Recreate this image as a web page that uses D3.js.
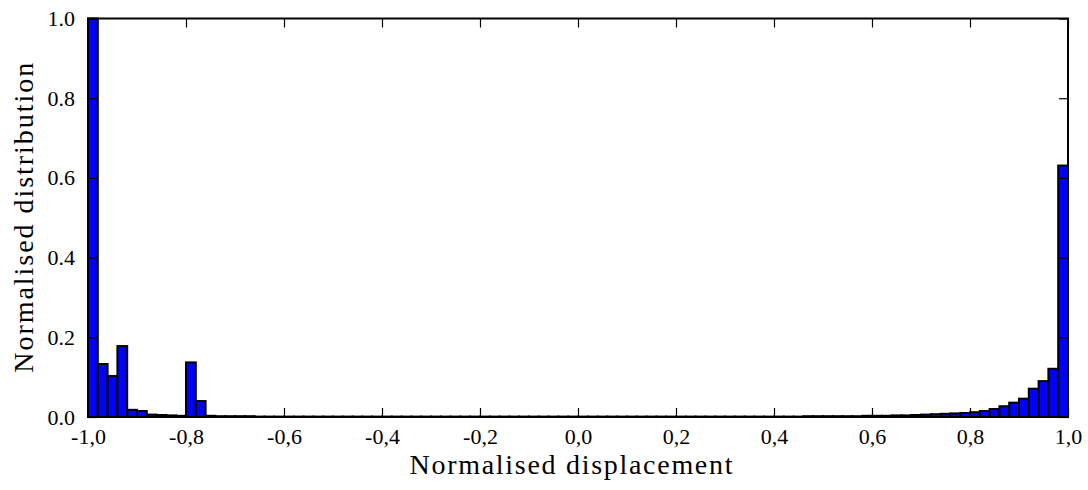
<!DOCTYPE html>
<html>
<head>
<meta charset="utf-8">
<script src="https://cdn.jsdelivr.net/npm/d3@7"></script>
<style>
  html, body { margin: 0; padding: 0; background: #fff; }
  svg { display: block; }
  text { font-family: "Liberation Serif", "DejaVu Serif", serif; fill: #000; }
</style>
</head>
<body>
<svg id="chart" width="1088" height="490"></svg>
<script>
// Histogram: 100 bins of width 0.02 from -1 to 1
const binStart = -1.0;
const binWidth = 0.02;
const binValues = [
  1.000, 0.133, 0.103, 0.178, 0.018, 0.015, 0.006, 0.005, 0.004, 0.003,
  0.137, 0.040, 0.003, 0.002, 0.002, 0.002, 0.002, 0.001, 0.001, 0.001,
  0.001, 0.001, 0.001, 0.001, 0.001, 0.001, 0.001, 0.001, 0.001, 0.001,
  0.001, 0.001, 0.001, 0.001, 0.001, 0.001, 0.001, 0.001, 0.001, 0.001,
  0.001, 0.001, 0.001, 0.001, 0.001, 0.001, 0.001, 0.001, 0.001, 0.001,
  0.001, 0.001, 0.001, 0.001, 0.001, 0.001, 0.001, 0.001, 0.001, 0.001,
  0.001, 0.001, 0.001, 0.001, 0.001, 0.001, 0.001, 0.001, 0.001, 0.001,
  0.001, 0.001, 0.001, 0.002, 0.002, 0.002, 0.002, 0.002, 0.002, 0.003,
  0.003, 0.003, 0.004, 0.004, 0.005, 0.006, 0.007, 0.008, 0.009, 0.010,
  0.012, 0.015, 0.020, 0.027, 0.036, 0.046, 0.071, 0.090, 0.121, 0.631
];
const xTicks = [-1.0, -0.8, -0.6, -0.4, -0.2, 0.0, 0.2, 0.4, 0.6, 0.8, 1.0];
const xTickLabels = ["-1,0", "-0,8", "-0,6", "-0,4", "-0,2", "0,0", "0,2", "0,4", "0,6", "0,8", "1,0"];
const yTicks = [0.0, 0.2, 0.4, 0.6, 0.8, 1.0];
const yTickLabels = ["0.0", "0.2", "0.4", "0.6", "0.8", "1.0"];
const xLabel = "Normalised displacement";
const yLabel = "Normalised distribution";

const svg = d3.select("#chart");
const m = { left: 88, right: 20, top: 18.5, bottom: 73 };
const W = 1088, H = 490;
const x = d3.scaleLinear().domain([-1, 1]).range([m.left, W - m.right]);
const y = d3.scaleLinear().domain([0, 1]).range([H - m.bottom, m.top]);

const bins = binValues.map((v, i) => ({ x0: binStart + i * binWidth, x1: binStart + (i + 1) * binWidth, v }));

svg.append("g").selectAll("rect").data(bins).join("rect")
  .attr("x", d => x(d.x0))
  .attr("width", d => x(d.x1) - x(d.x0))
  .attr("y", d => y(d.v))
  .attr("height", d => y(0) - y(d.v))
  .attr("fill", "#0000ff")
  .attr("stroke", "#000")
  .attr("stroke-width", 2);

const tickLen = 9;
const fmtX = (d, i) => xTickLabels[i];
const fmtY = (d, i) => yTickLabels[i];

const gB = svg.append("g").attr("transform", `translate(0,${y(0)})`)
  .call(d3.axisBottom(x).tickValues(xTicks).tickFormat(fmtX).tickSizeInner(-tickLen).tickSizeOuter(0).tickPadding(11));
const gT = svg.append("g").attr("transform", `translate(0,${y(1)})`)
  .call(d3.axisTop(x).tickValues(xTicks).tickFormat("").tickSizeInner(-tickLen).tickSizeOuter(0));
const gL = svg.append("g").attr("transform", `translate(${x(-1)},0)`)
  .call(d3.axisLeft(y).tickValues(yTicks).tickFormat(fmtY).tickSizeInner(-tickLen).tickSizeOuter(0).tickPadding(13));
const gR = svg.append("g").attr("transform", `translate(${x(1)},0)`)
  .call(d3.axisRight(y).tickValues(yTicks).tickFormat("").tickSizeInner(-tickLen).tickSizeOuter(0));

[gB, gT, gL, gR].forEach(g => {
  g.select(".domain").remove();
  g.selectAll(".tick line").attr("stroke", "#000").attr("stroke-width", 1.2);
  g.selectAll("text").style("font-family", '"Liberation Serif", serif').style("font-size", "22px").attr("fill", "#000");
});
gB.selectAll("text").attr("dy", "0.71em");

// frame
svg.append("rect")
  .attr("x", x(-1)).attr("y", y(1))
  .attr("width", x(1) - x(-1)).attr("height", y(0) - y(1))
  .attr("fill", "none").attr("stroke", "#000").attr("stroke-width", 2);

svg.append("text")
  .attr("x", 571).attr("y", 474)
  .attr("text-anchor", "middle")
  .attr("textLength", 323).attr("lengthAdjust", "spacing")
  .style("font-size", "28px")
  .text(xLabel);

svg.append("text")
  .attr("transform", `translate(33,${(y(0) + y(1)) / 2}) rotate(-90)`)
  .attr("text-anchor", "middle")
  .attr("textLength", 310).attr("lengthAdjust", "spacing")
  .style("font-size", "28px")
  .text(yLabel);
</script>
</body>
</html>
